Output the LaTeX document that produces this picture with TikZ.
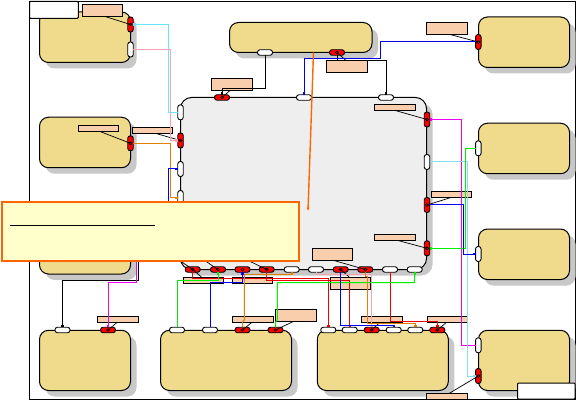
\documentclass[tikz,border=0pt]{standalone}
\usepackage{tikz}
\usetikzlibrary{arrows.meta, shadows}
\definecolor{blockYellow}{HTML}{EFDB8B}
\definecolor{coreGray}   {HTML}{EEEEEE}
\definecolor{shadeGray}  {HTML}{C8C8C8}
\definecolor{tagPeach}   {HTML}{F9CEAC}
\definecolor{noteYellow} {HTML}{FFFFCC}
\definecolor{noteOrange} {HTML}{FF6600}
\definecolor{linkCyan}   {HTML}{66E6FF}
\definecolor{linkSky}    {HTML}{88DDF0}
\definecolor{linkPink}   {HTML}{FFA0B0}
\definecolor{linkOrange} {HTML}{E08000}
\definecolor{linkMagenta}{HTML}{F000F0}
\definecolor{linkGreen}  {HTML}{00F000}
\definecolor{linkBlue}   {HTML}{0000F0}
\definecolor{linkRed}    {HTML}{F00000}
\tikzset{
  block/.style  = {rectangle, rounded corners=9pt, draw=black, fill=blockYellow,
                   line width=1pt, inner sep=0pt, outer sep=0pt,
                   drop shadow={shadow xshift=6pt, shadow yshift=-6pt,
                                fill=shadeGray, opacity=1}},
  sblock/.style = {block, minimum width=91pt, minimum height=50.5pt},
  wblock/.style = {block, minimum width=131pt, minimum height=60.2pt},
  tag/.style    = {rectangle, draw=black, fill=tagPeach, line width=1pt,
                   inner sep=0pt, outer sep=0pt, minimum width=40.5pt, minimum height=6pt},
  ltag/.style   = {tag, minimum height=12pt},
  vport/.style  = {rectangle, rounded corners=2.5pt, draw=black, fill=white, line width=0.9pt,
                   inner sep=0pt, outer sep=0pt, minimum width=5.5pt, minimum height=15pt},
  hport/.style  = {vport, minimum width=15pt, minimum height=5.5pt},
  redmark/.style= {fill=red, path picture={\draw[line width=0.7pt]
                   (path picture bounding box.center) circle (1.5pt);}},
  vred/.style   = {vport, redmark},
  hred/.style   = {hport, redmark},
  link/.style   = {-{Square[length=2.4pt,width=2.4pt]}, line width=1pt},
  leader/.style = {line width=0.7pt, color=black},
}
\begin{document}
\begin{tikzpicture}[x=1pt, y=-1pt]
\useasboundingbox (0,0) rectangle (576,401);

% outer frame
\node[rectangle, draw=black, line width=1pt, inner sep=0pt, outer sep=0pt,
      minimum width=545.5pt, minimum height=397.5pt] (frame) at (302.25,200.25) {};

% blocks
\node[sblock] (blockA) at (85,37.25) {};
\node[sblock] (blockB) at (85,142.5) {};
\node[sblock] (blockC) at (85,248.75) {};
\node[block, minimum width=142.5pt, minimum height=30pt] (blockD) at (300.75,37.5) {};
\node[block, fill=coreGray, rounded corners=11pt, minimum width=246pt, minimum height=172pt] (core) at (303.5,183.5) {};
\node[sblock] (blockR1) at (524,42.25) {};
\node[sblock] (blockR2) at (524,148.5) {};
\node[sblock] (blockR3) at (524,254.3) {};
\node[sblock, minimum height=60.2pt] (blockR4) at (524,360.4) {};
\node[sblock, minimum height=60.2pt] (blockE) at (85,360.4) {};
\node[wblock] (blockF) at (226,360.4) {};
\node[wblock] (blockG) at (382.8,360.4) {};

% corner tabs
\node[rectangle, rounded corners=1pt, draw=black, fill=white, line width=1pt, inner sep=0pt, outer sep=0pt,
      minimum width=48.8pt, minimum height=16.8pt] (tabNW) at (53.9,9.9) {};
\node[rectangle, rounded corners=1pt, draw=black, fill=white, line width=1pt, inner sep=0pt, outer sep=0pt,
      minimum width=57.5pt, minimum height=16pt] (tabSE) at (546.25,391) {};

% tags
\node[ltag] (tagA)  at (102.5,10.5) {};
\node[tag]  (tagB)  at (98.5,128.5) {};
\node[tag]  (tagC)  at (152.5,130.5) {};
\node[ltag] (tagD)  at (232,84.5) {};
\node[ltag] (tagE)  at (346.75,66.5) {};
\node[ltag] (tagF)  at (447,28.5) {};
\node[tag]  (tagG)  at (395,108) {};
\node[tag]  (tagH)  at (451.5,194.5) {};
\node[tag]  (tagI)  at (395,237.3) {};
\node[ltag] (tagJ)  at (332.5,254.5) {};
\node[tag]  (tagK)  at (203.3,280.4) {};
\node[tag]  (tagL)  at (252.5,280.4) {};
\node[ltag] (tagM)  at (350.7,283.5) {};
\node[tag]  (tagN)  at (118,319.6) {};
\node[tag]  (tagO)  at (253,319.6) {};
\node[ltag] (tagP)  at (296,315.4) {};
\node[tag]  (tagQ)  at (382,319.6) {};
\node[tag]  (tagS)  at (447.3,319.6) {};
\node[tag]  (tagT)  at (447,396.3) {};
\coordinate (tagU) at (176,258);
\coordinate (tagV) at (201,258);
\coordinate (tagW) at (243,258);

% ports
\node[vred]  (pA1) at (130.5,24.5) {};
\node[vport] (pA2) at (130.5,49.5) {};
\node[vred]  (pB1) at (130.5,143.3) {};
\node[vport] (pC1) at (130.5,228) {};
\node[vport] (pC2) at (130.5,240) {};
\node[vport] (pC3) at (130.5,252) {};
\node[hport] (pD1) at (265,52.5) {};
\node[hred]  (pD2) at (337,52.5) {};
\node[hred]  (pT1) at (222,97.5) {};
\node[hport] (pT2) at (304,97.5) {};
\node[hport] (pT3) at (386,97.5) {};
\node[vport] (pL1) at (180.5,112.3) {};
\node[vred]  (pL2) at (180.5,140.5) {};
\node[vport] (pL3) at (180.5,169) {};
\node[vport] (pL4) at (180.5,198) {};
\node[vred]  (pS1) at (427,119.5) {};
\node[vport] (pS2) at (427,162) {};
\node[vred]  (pS3) at (427,205) {};
\node[vred]  (pS4) at (427,248.3) {};
\node[hred]  (pU1) at (192.7,269.5) {};
\node[hred]  (pU2) at (218,269.5) {};
\node[hred]  (pU3) at (242.5,269.5) {};
\node[hred]  (pU4) at (266.7,269.5) {};
\node[hport] (pU5) at (291.7,269.5) {};
\node[hport] (pU6) at (316,269.5) {};
\node[hred]  (pU7) at (340.7,269.5) {};
\node[hred]  (pU8) at (365.3,269.5) {};
\node[hport] (pU9) at (390,269.5) {};
\node[hport] (pU10) at (414.7,269.5) {};
\node[vred]  (pR1) at (478.3,42) {};
\node[vport] (pR2) at (478.3,148.3) {};
\node[vport] (pR3) at (478.3,254) {};
\node[vport] (pR4) at (478.3,345.3) {};
\node[vred]  (pR5) at (478.3,376) {};
\node[hport] (pE1) at (62.5,330) {};
\node[hred]  (pE2) at (108,330) {};
\node[hport] (pF1) at (177,330) {};
\node[hport] (pF2) at (210,330) {};
\node[hred]  (pF3) at (242.5,330) {};
\node[hred]  (pF4) at (275.5,330) {};
\node[hport] (pG1) at (328.3,330) {};
\node[hport] (pG2) at (349.7,330) {};
\node[hred]  (pG3) at (371.7,330) {};
\node[hport] (pG4) at (393.7,330) {};
\node[hport] (pG5) at (415.3,330) {};
\node[hred]  (pG6) at (437.3,330) {};

% tag leaders
\draw[leader] (105,16.5) -- (pA1.center);
\draw[leader] (100,131.5) -- (pB1.center);
\draw[leader] (156,133.5) -- (pL2.center);
\draw[leader] (230,90.5) -- (pT1.center);
\draw[leader] (346,60.5) -- (pD2.center);
\draw[leader] (450,34.5) -- (pR1.center);
\draw[leader] (395.3,110.5) -- (pS1.center);
\draw[leader] (451,197.5) -- (pS3.center);
\draw[leader] (398,240.5) -- (pS4.center);
\draw[leader] (334,260.5) -- (pU8.center);
\draw[leader] (tagU) -- (pU1.center);
\draw[leader] (tagV) -- (pU2.center);
\draw[leader] (tagW) -- (pU4.center);
\draw[leader] (pU1.center) -- (202,277.5);
\draw[leader] (pU7.center) -- (349.7,277.5);
\draw[leader] (117,322.5) -- (pE2.center);
\draw[leader] (251.7,322.5) -- (pF3.center);
\draw[leader] (293.3,321.5) -- (pF4.center);
\draw[leader] (379.7,322.5) -- (pG3.center);
\draw[leader] (446.3,322.5) -- (pG6.center);
\draw[leader] (449,393.5) -- (pR5.center);

% connectors
\draw[link, linkCyan] (pL1.west) -- (168.5,112.3) |- (pA1.east);
\draw[link, linkPink] (pA2.east) -- (170.5,49.5) |- (pL2.west);
\draw[link, linkOrange] (pB1.east) -- (170.5,143.3) |- (pL4.west);
\draw[link, linkBlue] (pC3.east) -- (168.5,252) |- (pL3.west);
\draw[link, black] (pC1.east) -| (138,280.3) -| (pE1.north);
\draw[link, linkMagenta] (pC2.east) -| (136.7,282.3) -| (pE2.north);
\draw[link, black] (pD1.south) -- (265,88.3) -| (pT1.north);
\draw[link, black] (pD2.south) -- (337,60.3) -| (pT3.north);
\draw[link, linkBlue] (pR1.west) -- (380.4,42) -- (380.4,58.4) -| (pT2.north);
\draw[link, linkMagenta] (pR4.west) -- (461.4,345.3) |- (pS1.east);
\draw[link, linkSky] (pS2.east) -- (467.3,162) |- (pR5.west);
\draw[link, linkGreen] (pR2.west) -- (465.3,148.3) |- (pS4.east);
\draw[link, linkBlue] (pS3.east) -- (463.6,205) |- (pR3.west);
\draw[link, linkRed] (pU1.south) |- (328.3,278.4) -- (pG1.north);
\draw[link, linkRed] (pU4.south) |- (349.7,280.4) -- (pG2.north);
\draw[link, linkRed] (pU9.south) |- (437.3,321.7) -- (pG6.north);
\draw[link, linkGreen] (pF1.north) |- (218,280.3) -- (pU2.south);
\draw[link, linkBlue] (pF2.north) |- (242.5,282.4) -- (pU3.south);
\draw[link, linkOrange] (pF3.north) -- (242.5,322) -- (244.3,320) -- (244.3,274.4) -| (pU5.south);
\draw[link, linkGreen] (pF4.north) -- (275.5,322) -- (277.3,320) -- (277.3,282.7) -| (pU10.south);
\draw[link, linkPink] (pU6.south) |- (371.7,274.4) -- (pG3.north);
\draw[link, linkBlue] (pU7.south) |- (393.7,325.7) -- (pG4.north);
\draw[link, linkOrange] (pU8.south) -- (365.3,276) -- (367.3,276) |- (415.3,323.3) -- (pG5.north);

% note on top
\coordinate (noteRoot) at (313.5,52.5);
\coordinate (noteTip) at (308,210.5);
\draw[-{Stealth[length=3pt,width=3pt]}, noteOrange, line width=1.4pt] (noteRoot) -- (noteTip);
\node[rectangle, draw=noteOrange, fill=noteYellow, line width=2pt, inner sep=0pt, outer sep=0pt,
      minimum width=297.5pt, minimum height=59.5pt] (note) at (150.5,231.5) {};
\coordinate (ruleA) at (10,225.5);
\coordinate (ruleB) at (155,225.5);
\draw[line width=1pt] (ruleA) -- (ruleB);

\end{tikzpicture}
\end{document}
